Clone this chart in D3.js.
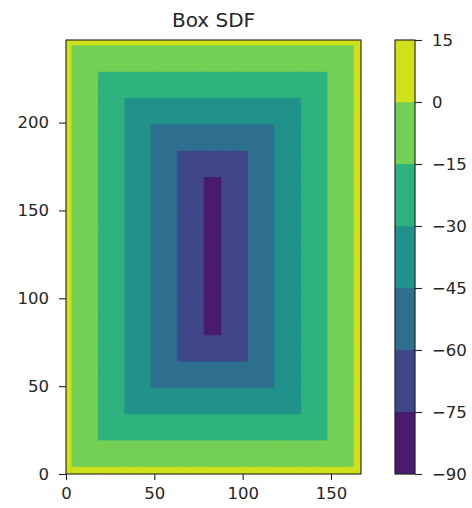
<!DOCTYPE html>
<html>
<head>
<meta charset="utf-8">
<script src="https://cdn.jsdelivr.net/npm/d3@7"></script>
<style>
  body { margin: 0; background: #fff; }
  text { font-family: "DejaVu Sans", sans-serif; fill: #262626; }
</style>
</head>
<body>
<svg id="chart" width="472" height="508"></svg>
<script>
// grid extent (x, y) and the box
var gridSize = [168, 248];
var boxCenter = [83, 124];
var boxHalf = [80, 120];
var levels = [-90, -75, -60, -45, -30, -15, 0, 15];
var xTicks = [0, 50, 100, 150];
var yTicks = [0, 50, 100, 150, 200];

var svg = d3.select("#chart");
var plotLeft = 66, plotRight = 361, plotTop = 40, plotBottom = 474;

var x = d3.scaleLinear().domain([0, gridSize[0] - 1]).range([plotLeft, plotRight]);
var y = d3.scaleLinear().domain([0, gridSize[1] - 1]).range([plotBottom, plotTop]);

// signed distance of the box, sampled every half unit
var step = 0.5;
var n = Math.round((gridSize[0] - 1) / step) + 1;
var m = Math.round((gridSize[1] - 1) / step) + 1;
var values = new Array(n * m);
for (var j = 0; j < m; j++) {
    for (var i = 0; i < n; i++) {
        var dx = Math.abs(i * step - boxCenter[0]) - boxHalf[0];
        var dy = Math.abs(j * step - boxCenter[1]) - boxHalf[1];
        var outside = Math.hypot(Math.max(dx, 0), Math.max(dy, 0));
        var inside = Math.min(Math.max(dx, dy), 0);
        values[j * n + i] = outside + inside;
    }
}

// matplotlib contourf colours: viridis at band midpoints
var norm = d3.scaleLinear().domain([levels[0], levels[levels.length - 1]]).range([0, 1]);
function bandColor(k) {
    return d3.interpolateViridis(norm((levels[k] + levels[k + 1]) / 2));
}

var contours = d3.contours().size([n, m]).thresholds(levels.slice(0, -1))(values);

var proj = d3.geoTransform({
    point: function (px, py) { this.stream.point(x((px - 0.5) * step), y((py - 0.5) * step)); }
});
var path = d3.geoPath(proj);

svg.append("clipPath").attr("id", "clip")
    .append("rect")
    .attr("x", plotLeft).attr("y", plotTop)
    .attr("width", plotRight - plotLeft).attr("height", plotBottom - plotTop);

svg.append("g")
    .attr("clip-path", "url(#clip)")
    .selectAll("path")
    .data(contours)
    .enter()
    .append("path")
    .attr("d", path)
    .attr("fill", function (d, k) { return bandColor(k); })
    .attr("stroke", function (d, k) { return bandColor(k); })
    .attr("stroke-width", 0.3);

// frame
svg.append("rect")
    .attr("x", plotLeft).attr("y", plotTop)
    .attr("width", plotRight - plotLeft).attr("height", plotBottom - plotTop)
    .attr("fill", "none").attr("stroke", "#222").attr("stroke-width", 1.1);

function fmt(v) { return v < 0 ? "\u2212" + Math.abs(v) : String(v); }

var fontSize = 16.5;

var xAxis = svg.append("g")
    .attr("transform", "translate(0," + plotBottom + ")")
    .call(d3.axisBottom(x).tickValues(xTicks).tickSize(6).tickPadding(7));
var yAxis = svg.append("g")
    .attr("transform", "translate(" + plotLeft + ",0)")
    .call(d3.axisLeft(y).tickValues(yTicks).tickSize(7).tickPadding(10));
[xAxis, yAxis].forEach(function (g) {
    g.select(".domain").remove();
    g.selectAll("text").attr("font-size", fontSize).attr("font-family", "DejaVu Sans").attr("fill", "#262626");
    g.selectAll("line").attr("stroke", "#222").attr("stroke-width", 1.1);
});

svg.append("text")
    .attr("x", (plotLeft + plotRight) / 2).attr("y", 26.5)
    .attr("text-anchor", "middle")
    .attr("font-size", 20)
    .text("Box SDF");

// colorbar
var cbLeft = 395, cbRight = 415;
var cb = d3.scaleLinear().domain([levels[0], levels[levels.length - 1]]).range([plotBottom, plotTop]);
var cbg = svg.append("g");
cbg.selectAll("rect")
    .data(levels.slice(0, -1))
    .enter()
    .append("rect")
    .attr("x", cbLeft)
    .attr("width", cbRight - cbLeft)
    .attr("y", function (d, k) { return cb(levels[k + 1]); })
    .attr("height", function (d, k) { return cb(levels[k]) - cb(levels[k + 1]); })
    .attr("fill", function (d, k) { return bandColor(k); })
    .attr("stroke", function (d, k) { return bandColor(k); })
    .attr("stroke-width", 0.3);
cbg.append("rect")
    .attr("x", cbLeft).attr("y", plotTop)
    .attr("width", cbRight - cbLeft).attr("height", plotBottom - plotTop)
    .attr("fill", "none").attr("stroke", "#222").attr("stroke-width", 1.1);

var cbAxis = svg.append("g")
    .attr("transform", "translate(" + cbRight + ",0)")
    .call(d3.axisRight(cb).tickValues(levels).tickFormat(fmt).tickSize(7).tickPadding(10));
cbAxis.select(".domain").remove();
cbAxis.selectAll("text").attr("font-size", fontSize).attr("font-family", "DejaVu Sans").attr("fill", "#262626");
cbAxis.selectAll("line").attr("stroke", "#222").attr("stroke-width", 1.1);
</script>
</body>
</html>
